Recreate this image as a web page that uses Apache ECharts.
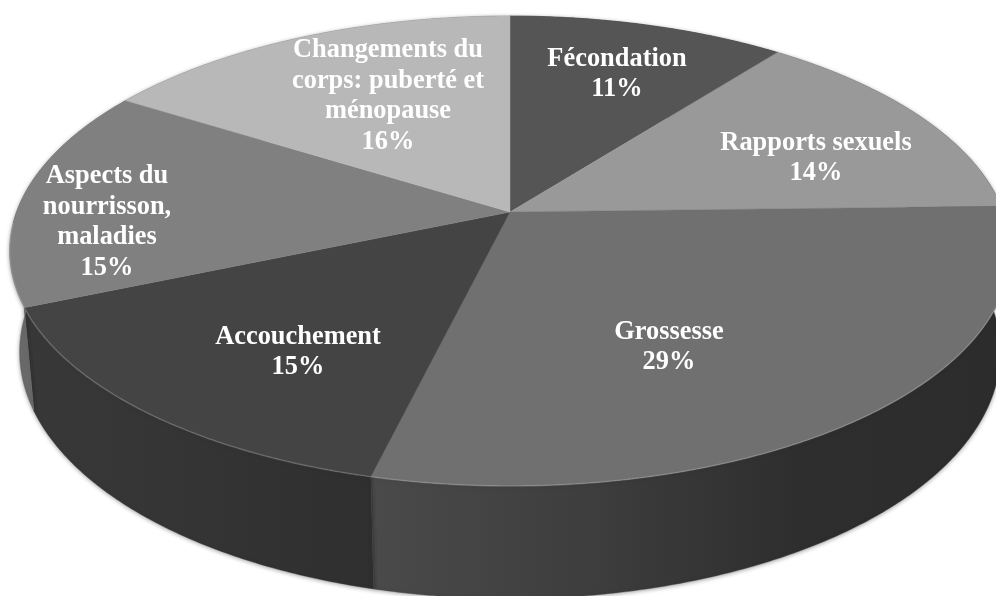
<!DOCTYPE html>
<html><head><meta charset="utf-8">
<style>html,body{margin:0;padding:0;background:#fff;overflow:hidden}#c{width:996px;height:596px}</style>
<script src="https://cdn.jsdelivr.net/npm/echarts@6/dist/echarts.min.js"></script>
</head><body><div id="c"></div>
<script>
const categories = ["Fécondation","Rapports sexuels","Grossesse","Accouchement","Aspects du\nnourrisson,\nmaladies","Changements du\ncorps: puberté et\nménopause"];
const values = [10.5,14.1,29.2,14.8,15.3,16.1];
const topColors = ["#555555","#999999","#707070","#444444","#808080","#b8b8b8"];
const wallStops = [["#333","#333"],["#5c5c5c","#5c5c5c"],["#4a4a4a","#3e3e3e","#2e2e2e","#2c2c2c"],["#383838","#343434","#2f2f2f"],["#6a6a6a","#6a6a6a"],["#777","#777"]];
const labelCenters = [[617,74],[816,158],[669,347],[298,352],[107,222],[388,96]];

const P = {cx:510, cy:212, a:493.5, b:228.5, k:-0.166, sx:0.98, sy:1.05, dy:99};
const total = values.reduce((s,v)=>s+v,0);
const starts = []; values.reduce((s,v,i)=>{starts[i]=s;return s+v;},0);
function topPt(deg,r){
  const t=deg*Math.PI/180, X=Math.sin(t)*r, Y=-Math.cos(t)*r, d=1+P.k*Y;
  return [P.cx+P.a*X/d, P.cy+P.b*Y/d];
}
function bottomPt(deg){
  const p=topPt(deg,1);
  return [P.cx+P.sx*(p[0]-P.cx), P.cy+P.sy*(p[1]-P.cy)+P.dy];
}
function arc(i,fn){
  const a0=starts[i]/total*360, a1=(starts[i]+values[i])/total*360, pts=[];
  const n=Math.max(2,Math.ceil((a1-a0)*2));
  for(let j=0;j<=n;j++) pts.push(fn(a0+(a1-a0)*j/n));
  return pts;
}
const seriesData = categories.map((c,i)=>({name:c,value:values[i]}));
function wall(params){
  const i=params.dataIndex, up=arc(i,d=>topPt(d,1)), lo=arc(i,bottomPt).reverse();
  const s=wallStops[i];
  return {type:'polygon',shape:{points:up.concat(lo)},style:{
    fill:new echarts.graphic.LinearGradient(0,0,1,0,s.map((c,j)=>({offset:j/(s.length-1),color:c}))),
    stroke:s[0],lineWidth:0.4,shadowBlur:4,shadowColor:'rgba(0,0,0,0.35)',shadowOffsetY:1}};
}
function face(params){
  const i=params.dataIndex, rim=arc(i,d=>topPt(d,1));
  const front=rim.filter(p=>p[1]>P.cy+10);
  const kids=[{type:'polygon',shape:{points:[[P.cx,P.cy]].concat(rim)},style:{fill:topColors[i],stroke:topColors[i],lineWidth:0.4}}];
  if(front.length>1) kids.push({type:'polyline',shape:{points:front},style:{fill:null,stroke:'rgba(255,255,255,0.16)',lineWidth:1.6}});
  return {type:'group',children:kids};
}
function label(params){
  const i=params.dataIndex, c=labelCenters[i];
  return {type:'text',x:c[0],y:c[1],style:{
    text:categories[i]+"\n"+Math.round(values[i])+"%",
    fill:'#ffffff',font:'bold 26.4px "Liberation Serif"',lineHeight:30.6,align:'center',verticalAlign:'middle'}};
}
const chart=echarts.init(document.getElementById('c'),null,{renderer:'canvas',width:996,height:596});
const base={type:'custom',coordinateSystem:'none',data:seriesData,animation:false,silent:true};
chart.setOption({
  backgroundColor:'#ffffff',animation:false,
  series:[
    Object.assign({},base,{z:1,renderItem:wall}),
    Object.assign({},base,{z:2,renderItem:face}),
    Object.assign({},base,{z:3,renderItem:label})
  ]
});
</script></body></html>
